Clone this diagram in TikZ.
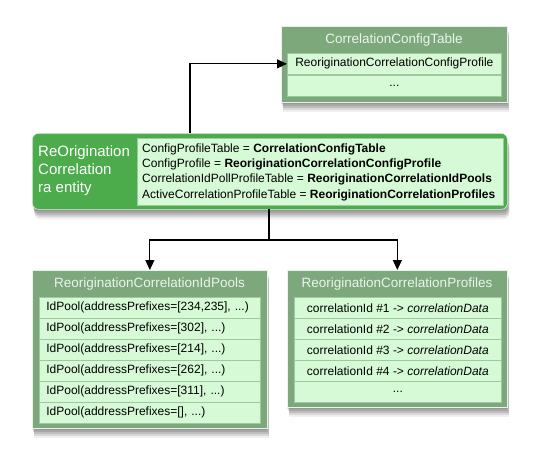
\documentclass[tikz,border=0pt]{standalone}
\usepackage{fontspec}
\setmainfont{Liberation Sans}
\usetikzlibrary{arrows.meta,shadows}
\definecolor{tblgreen}{RGB}{124,168,124}
\definecolor{rowgreen}{RGB}{214,250,214}
\definecolor{entgreen}{RGB}{76,172,76}
\definecolor{titletxt}{RGB}{236,244,236}
\definecolor{rowline}{RGB}{160,200,160}
\begin{document}
\begin{tikzpicture}[x=1pt,y=-1pt,
  font=\fontsize{12}{14}\selectfont,
  softshadow/.style={
    general shadow={shadow xshift=0pt, shadow yshift=-2pt, fill=black, opacity=0.10},
    general shadow={shadow xshift=1pt, shadow yshift=-4pt, fill=black, opacity=0.12},
    general shadow={shadow xshift=1.5pt, shadow yshift=-6pt, fill=black, opacity=0.12},
    general shadow={shadow xshift=2pt, shadow yshift=-8pt, fill=black, opacity=0.10},
    general shadow={shadow xshift=2pt, shadow yshift=-10pt, fill=black, opacity=0.06}},
  outerbox/.style={draw=white!85!tblgreen, line width=0.7pt, fill=tblgreen, inner sep=0,
    anchor=north west, softshadow},
  titletext/.style={text=titletxt, font=\fontsize{13.5}{16}\selectfont, inner sep=0},
  crow/.style={draw=rowline, line width=0.7pt, fill=rowgreen, inner sep=0, anchor=north west,
    minimum height=21pt, minimum width=#1},
  lrow/.style={draw=rowline, line width=0.7pt, fill=rowgreen, inner ysep=0, inner xsep=7pt,
    anchor=north west, minimum height=21pt, text width=#1, align=left},
  conn/.style={draw=black, line width=1.1pt, -{Triangle[length=10pt,width=9pt]}}
]
\useasboundingbox (0,0) rectangle (537,466);

% top table
\node[outerbox, minimum width=226pt, minimum height=76pt] (top) at (281,26) {};
\node[titletext] (toptitle) at (394,40) {CorrelationConfigTable};
\node[crow=214pt] (t1) at (287,53) {ReoriginationCorrelationConfigProfile};
\node[crow=214pt] (t2) at (287,75) {...};

% middle entity
\node[draw=white!80!entgreen, line width=0.7pt, fill=entgreen, rounded corners=6pt, inner sep=0,
  anchor=north west, minimum width=475pt, minimum height=76pt, softshadow] (mid) at (32,133) {};
\node[draw=rowline, line width=0.6pt, fill=rowgreen, inner sep=0, anchor=north west,
  minimum width=366pt, minimum height=67pt] (midin) at (137,138) {};
\node[anchor=west, align=left, text=white, font=\fontsize{15}{18}\selectfont, inner sep=0]
  (midlabel) at (38,171) {ReOrigination\\Correlation\\ra entity};
\node[anchor=west, align=left, font=\fontsize{12}{15.3}\selectfont, inner sep=0] (midtext) at (142,172)
  {ConfigProfileTable = \textbf{CorrelationConfigTable}\\
   ConfigProfile = \textbf{ReoriginationCorrelationConfigProfile}\\
   CorrelationIdPollProfileTable = \textbf{ReoriginationCorrelationIdPools}\\
   ActiveCorrelationProfileTable = \textbf{ReoriginationCorrelationProfiles}};

% left table
\node[outerbox, minimum width=235pt, minimum height=158pt] (left) at (32,270) {};
\node[titletext] (lefttitle) at (149.5,284) {ReoriginationCorrelationIdPools};
\node[lrow=207pt] (l1) at (39,297) {IdPool(addressPrefixes=[234,235], ...)};
\node[lrow=207pt] (l2) at (39,318) {IdPool(addressPrefixes=[302], ...)};
\node[lrow=207pt] (l3) at (39,339) {IdPool(addressPrefixes=[214], ...)};
\node[lrow=207pt] (l4) at (39,360) {IdPool(addressPrefixes=[262], ...)};
\node[lrow=207pt] (l5) at (39,381) {IdPool(addressPrefixes=[311], ...)};
\node[lrow=207pt] (l6) at (39,402) {IdPool(addressPrefixes=[], ...)};

% right table
\node[outerbox, minimum width=220pt, minimum height=137pt] (right) at (287,270) {};
\node[titletext] (righttitle) at (397,284) {ReoriginationCorrelationProfiles};
\node[crow=207pt] (r1) at (294,297) {correlationId \#1 -> \textit{correlationData}};
\node[crow=207pt] (r2) at (294,318) {correlationId \#2 -> \textit{correlationData}};
\node[crow=207pt] (r3) at (294,339) {correlationId \#3 -> \textit{correlationData}};
\node[crow=207pt] (r4) at (294,360) {correlationId \#4 -> \textit{correlationData}};
\node[crow=207pt] (r5) at (294,381) {...};

% connectors
\coordinate (upstart) at (190,133);
\coordinate (downstart) at (269,209);
\coordinate (split) at (269,240);
\draw[conn] (upstart) |- (t1.west);
\draw[line width=1.1pt] (downstart) -- (split);
\draw[conn] (split) -| (left.north);
\draw[conn] (split) -| (right.north);
\end{tikzpicture}
\end{document}
